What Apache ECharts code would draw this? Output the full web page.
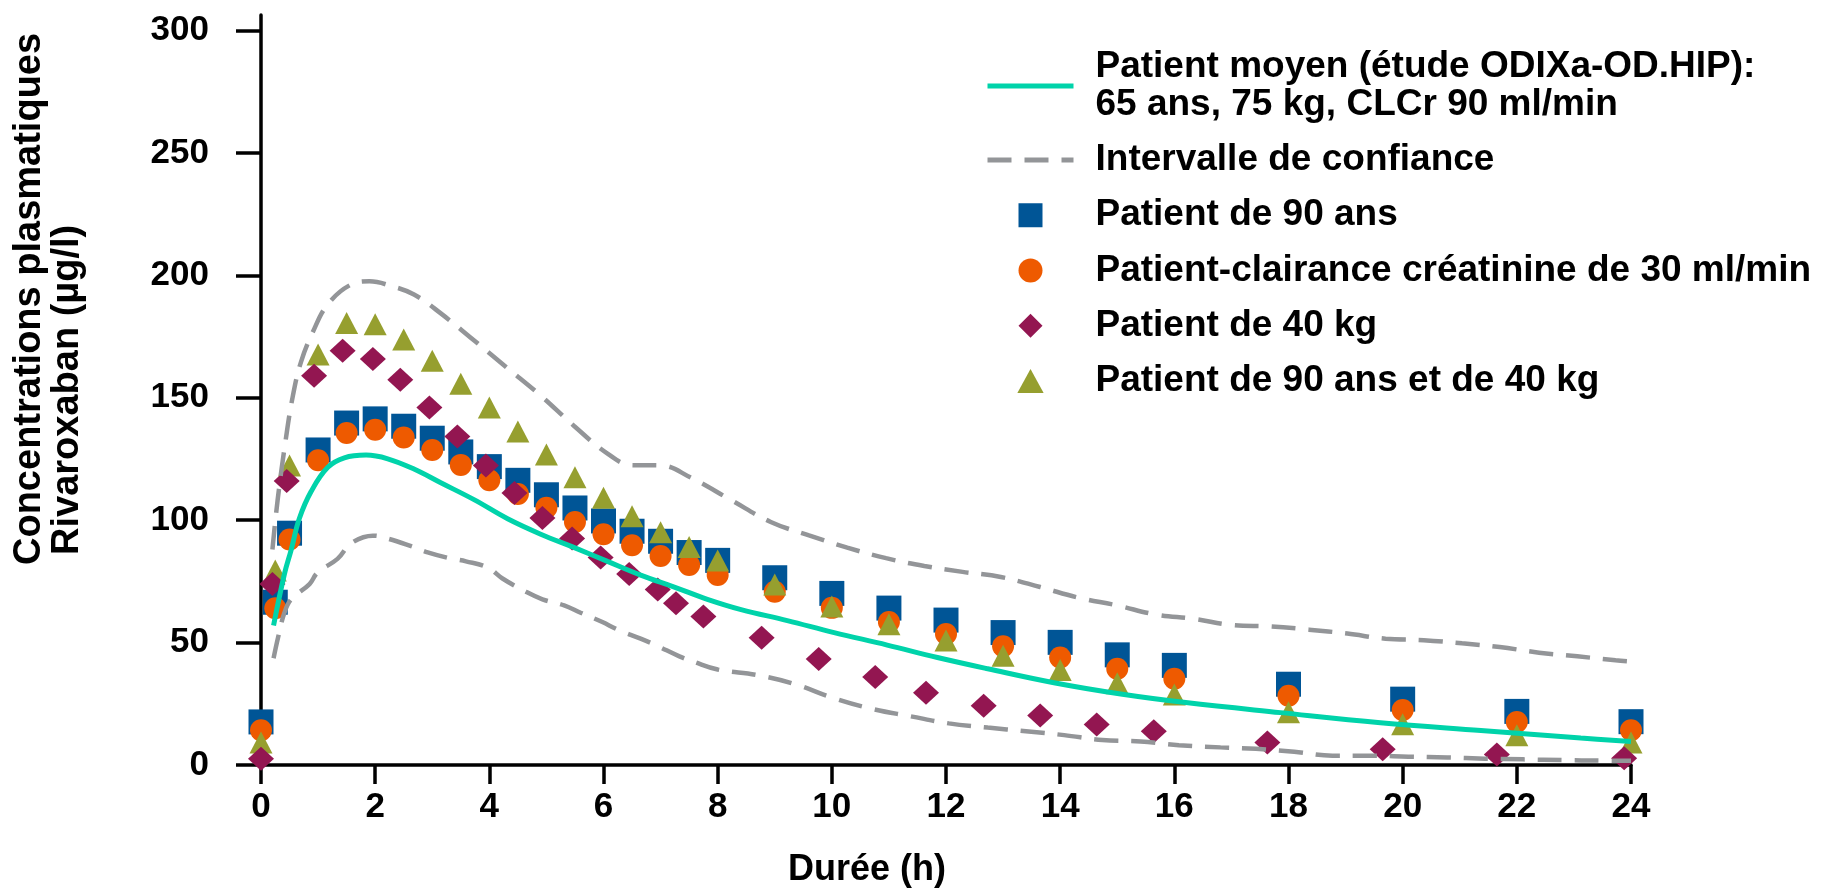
<!DOCTYPE html>
<html>
<head>
<meta charset="utf-8">
<script src="https://cdn.jsdelivr.net/npm/echarts@6/dist/echarts.min.js"></script>
<style>
html,body{margin:0;padding:0;background:#ffffff;}
#chart{width:1831px;height:888px;}
</style>
</head>
<body>
<div id="chart"></div>
<script>
// ---------- data ----------
const xTicks = [0, 2, 4, 6, 8, 10, 12, 14, 16, 18, 20, 22, 24];
const yTicks = [0, 50, 100, 150, 200, 250, 300];

const seriesNames = [
  'Patient moyen (étude ODIXa-OD.HIP):\n65 ans, 75 kg, CLCr 90 ml/min',
  'Intervalle de confiance',
  'Patient de 90 ans',
  'Patient-clairance créatinine de 30 ml/min',
  'Patient de 40 kg',
  'Patient de 90 ans et de 40 kg'
];

// sampling times of the square / circle / triangle markers (h)
const times = [0, 0.25, 0.5, 1, 1.5, 2, 2.5, 3, 3.5, 4, 4.5, 5, 5.5, 6, 6.5, 7, 7.5, 8,
               9, 10, 11, 12, 13, 14, 15, 16, 18, 20, 22, 24];
// Patient de 90 ans (squares)
const age90 = [17.6, 66.5, 94.7, 128.7, 139.7, 141.4, 138.4, 133.5, 127.9, 121.9, 116.3, 110.4, 105, 99.7,
               95.5, 91.4, 86.8, 83.6, 76.5, 70.1, 64.1, 59.2, 54.1, 50.1, 45, 40.7, 33, 26.9, 21.9, 17.7];
// Patient-clairance créatinine de 30 ml/min (circles)
const clcr30 = [14.2, 64, 92.1, 124.5, 135.6, 137, 133.8, 128.7, 122.6, 116.3, 110.7, 105.1, 99.3, 94.3,
                89.8, 85.4, 81.7, 77.6, 70.8, 64.2, 58.4, 53.5, 48.5, 43.9, 39.3, 35.2, 28.3, 22.5, 17.6, 14.2];
// Patient de 90 ans et de 40 kg (triangles)
const age90kg40 = [9.2, 79.5, 122.4, 167.7, 180.6, 180.1, 173.8, 165.1, 155.8, 146.1, 136.2, 126.8, 117.6, 109.2,
                   101.6, 95.1, 89.1, 83.5, 73.7, 64.8, 57.5, 50.9, 44.6, 38.8, 33.4, 28.8, 21.6, 16.6, 12.2, 9.2];
// Patient de 40 kg (diamonds) - own sampling times
const kg40Times = [0, 0.2, 0.45, 0.93, 1.43, 1.96, 2.44, 2.95, 3.44, 3.94, 4.44, 4.93, 5.45, 5.95, 6.45, 6.95,
                   7.27, 7.75, 8.77, 9.77, 10.76, 11.65, 12.66, 13.65, 14.64, 15.64, 17.63, 19.65, 21.65, 23.88];
const kg40 = [2.6, 73.9, 116, 159, 169.2, 165.9, 157.4, 146.1, 134.2, 122.4, 111.1, 100.9, 92.5, 84.8, 78, 71.7,
              66.1, 60.7, 52, 43.3, 35.9, 29.5, 24.2, 20.2, 16.5, 13.8, 9.2, 6.4, 4.3, 2.8];

// Patient moyen (continuous curve)
const meanT = [0.22, 0.41, 0.53, 0.67, 0.88, 1.17, 1.46, 1.84, 2.22, 2.68, 3.15, 3.74, 4.32, 4.9, 5.49, 6.07,
               6.65, 7.24, 7.82, 8.41, 9.22, 10.04, 10.97, 11.85, 12.73, 13.89, 15.06, 16.2, 17.86, 19.61,
               21.37, 23.12, 24];
const meanV = [57, 78, 88, 100.6, 111.8, 121.6, 125.5, 126.6, 125.1, 120.9, 115.3, 108.3, 100.6, 94.3, 88.8, 83.2,
               77.6, 72.7, 67.7, 63.5, 59, 54.1, 49, 43.9, 39.3, 33.6, 29, 25.5, 21.4, 17.3,
               14.1, 11, 9.6];

// Intervalle de confiance - upper bound
const upT = [0.2, 0.29, 0.44, 0.56, 0.7, 0.91, 1.17, 1.58, 1.9, 2.28, 2.68, 3.15, 3.74, 4.32, 4.9, 5.49, 6.07,
             6.5, 7.0, 7.53, 8.23, 8.93, 9.6, 10.27, 10.95, 11.62, 12.29, 12.96, 13.65, 14.33, 15.0, 15.67,
             16.35, 17.0, 17.69, 18.36, 19.03, 19.7, 20.37, 21.04, 21.7, 22.39, 23.06, 23.73, 24];
const upV = [88, 108, 134, 151, 164.6, 177, 188.2, 196.3, 197.6, 195.7, 192.2, 184.5, 173.3, 162.1, 150.9, 138.4, 127.2,
             122.5, 122.4, 117.4, 108.3, 99.3, 93.8, 88.8, 84.5, 81.3, 78.9, 76.8, 72.7, 68.3, 65.2, 61.5,
             59.7, 57.2, 56.6, 55.3, 53.7, 51.6, 51, 49.7, 48.2, 45.9, 44.4, 42.8, 42.3];
// Intervalle de confiance - lower bound
const loT = [0.22, 0.3, 0.41, 0.53, 0.85, 0.99, 1.34, 1.58, 1.96, 2.22, 2.63, 2.92, 3.3, 3.59, 3.97, 4.23, 4.64,
             4.93, 5.31, 5.6, 5.98, 6.25, 6.65, 6.92, 7.33, 7.59, 8.0, 8.7, 9.37, 10.01, 10.71, 11.38, 12.05,
             12.73, 13.4, 14.07, 14.74, 15.41, 16.08, 16.81, 17.43, 18.1, 18.77, 19.44, 20.1, 20.78, 21.44,
             22.11, 22.8, 23.46, 24];
const loV = [43.6, 52.2, 62.2, 67.7, 73.9, 78.6, 84.2, 90.6, 93.7, 92.5, 89.4, 86.9, 84.5, 83.2, 80.7, 76.2, 70.8,
             67.7, 65.2, 62.2, 58.4, 55.3, 51.6, 48.9, 44.4, 42.1, 39, 36.7, 32.9, 27.5, 22.9, 19.9, 17,
             15.3, 13.8, 12.2, 10.2, 9.6, 8.1, 7.2, 6.6, 5.4, 3.8, 3.8, 3.4, 3.1, 2.6,
             2.3, 2.0, 1.8, 1.7];

// ---------- styling ----------
const FONT = '"Liberation Sans", Arial, Helvetica, sans-serif';
const GRAY = '#939598';
const TEAL = '#00d3aa';
const BLUE = '#005596';
const ORANGE = '#ee5a00';
const MAROON = '#931651';
const OLIVE = '#969f2f';

function pairs(xs, ys) { return xs.map((x, i) => [x, ys[i]]); }

const chart = echarts.init(document.getElementById('chart'), null, {renderer: 'canvas'});

const hideSymbol = {opacity: 0, color: 'rgba(0,0,0,0)', borderWidth: 0};

const option = {
  animation: false,
  backgroundColor: '#ffffff',
  textStyle: {fontFamily: FONT},
  grid: {left: 261, right: 200, top: 15, bottom: 123, containLabel: false, outerBoundsMode: 'none'},
  xAxis: {
    type: 'value', min: 0, max: 24, interval: 2,
    axisLine: {show: true, onZero: false, lineStyle: {color: '#000', width: 3.5}},
    axisTick: {show: true, length: 19, lineStyle: {color: '#000', width: 3.5}, customValues: xTicks},
    axisLabel: {customValues: xTicks, fontSize: 35, fontWeight: 'bold', color: '#000', margin: 25, fontFamily: FONT},
    splitLine: {show: false},
    name: 'Durée (h)', nameLocation: 'middle', nameGap: 87,
    nameTextStyle: {fontSize: 36, fontWeight: 'bold', color: '#000', padding: [0, 158, 0, 0], fontFamily: FONT}
  },
  yAxis: {
    type: 'value', min: 0, max: 306.4,
    axisLine: {show: true, onZero: false, lineStyle: {color: '#000', width: 3.5}},
    axisTick: {show: true, length: 25, lineStyle: {color: '#000', width: 3.5}, customValues: yTicks},
    axisLabel: {customValues: yTicks, fontSize: 35, fontWeight: 'bold', color: '#000', margin: 52, fontFamily: FONT},
    splitLine: {show: false}
  },
  legend: {
    orient: 'vertical', left: 985, top: 48.5, padding: 0,
    itemWidth: 86, itemHeight: 24, itemGap: 17.75,
    selectedMode: false,
    symbolKeepAspect: true,
    data: [
      {name: seriesNames[0], itemStyle: hideSymbol},
      {name: seriesNames[1], itemStyle: hideSymbol},
      {name: seriesNames[2], icon: 'path://M0,0H10V10H0Z'},
      {name: seriesNames[3], icon: 'circle'},
      {name: seriesNames[4], icon: 'path://M5,0L10,5L5,10L0,5Z'},
      {name: seriesNames[5], icon: 'path://M11.5,0L23,21H0Z'}
    ],
    lineStyle: {width: 5},
    textStyle: {fontSize: 37, fontWeight: 'bold', color: '#000', lineHeight: 37.5, padding: [0, 0, 0, 17], fontFamily: FONT}
  },
  graphic: [
    {type: 'text', x: 10.5, y: 565, rotation: Math.PI / 2, silent: true,
     style: {text: 'Concentrations plasmatiques', font: 'bold 38px ' + FONT, fill: '#000',
             align: 'left', verticalAlign: 'top', lineHeight: 38}},
    {type: 'text', x: 48.5, y: 555, rotation: Math.PI / 2, silent: true,
     style: {text: 'Rivaroxaban (µg/l)', font: 'bold 38px ' + FONT, fill: '#000',
             align: 'left', verticalAlign: 'top', lineHeight: 38}}
  ],
  series: [
    {type: 'line', name: seriesNames[1], data: pairs(upT, upV), symbol: 'none', smooth: 0.4,
     lineStyle: {color: GRAY, width: 4.5, type: [24, 13]}, itemStyle: {color: GRAY}},
    {type: 'line', name: seriesNames[1], data: pairs(loT, loV), symbol: 'none', smooth: 0.4,
     lineStyle: {color: GRAY, width: 4.5, type: [24, 13]}, itemStyle: {color: GRAY}},
    {type: 'line', name: seriesNames[0], data: pairs(meanT, meanV), symbol: 'none', smooth: 0.4,
     lineStyle: {color: TEAL, width: 5}, itemStyle: {color: TEAL}},
    {type: 'scatter', name: seriesNames[2], data: pairs(times, age90), symbol: 'rect', symbolSize: 25,
     itemStyle: {color: BLUE, opacity: 1}},
    {type: 'scatter', name: seriesNames[3], data: pairs(times, clcr30), symbol: 'circle', symbolSize: 22,
     itemStyle: {color: ORANGE, opacity: 1}},
    {type: 'scatter', name: seriesNames[5], data: pairs(times, age90kg40), symbol: 'triangle', symbolSize: [23, 22],
     itemStyle: {color: OLIVE, opacity: 1}},
    {type: 'scatter', name: seriesNames[4], data: pairs(kg40Times, kg40), symbol: 'diamond', symbolSize: [26, 24],
     itemStyle: {color: MAROON, opacity: 1}}
  ]
};

chart.setOption(option);
</script>
</body>
</html>
